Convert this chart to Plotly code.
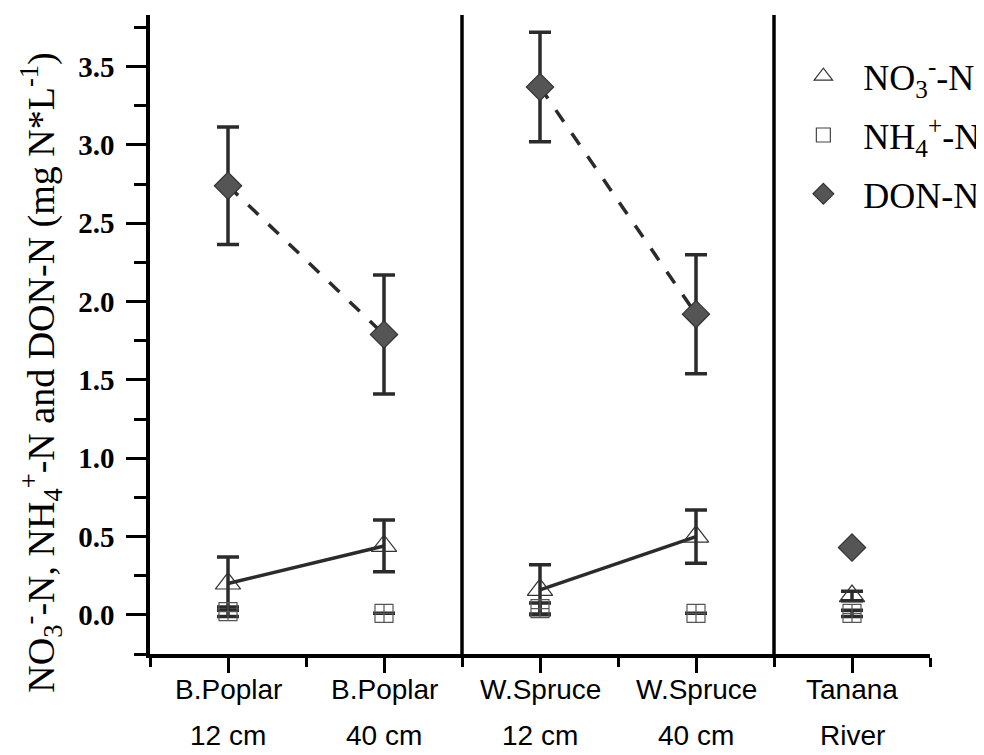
import plotly.graph_objects as go

# ---- data ----
cat_line1 = ["B.Poplar", "B.Poplar", "W.Spruce", "W.Spruce", "Tanana"]
cat_line2 = ["12 cm", "40 cm", "12 cm", "40 cm", "River"]
cat_pos = [1, 2, 3, 4, 5]
separators = [2.5, 4.5]

no3_vals = [0.20, 0.44, 0.16, 0.50, 0.12]
no3_err = [0.17, 0.165, 0.16, 0.17, 0.03]

nh4_vals = [0.02, 0.01, 0.04, 0.01, 0.01]
nh4_err = [0.03, 0.0, 0.035, 0.0, 0.02]

don_vals = [2.74, 1.79, 3.37, 1.92, 0.43]
don_err = [0.375, 0.38, 0.35, 0.38, 0.0]

# segments joined by lines (indices into the category list)
segments = [(0, 1), (2, 3)]

dark = "#2b2b2b"
fig = go.Figure()

def add_series(name, vals, errs, symbol, msize, mcolor, mline, dash, connect, group):
    if connect:
        for a, b in segments:
            fig.add_trace(go.Scatter(
                x=[cat_pos[a], cat_pos[b]], y=[vals[a], vals[b]],
                mode="lines", line=dict(color=dark, width=3.5, dash=dash),
                showlegend=False, hoverinfo="skip"))
    fig.add_trace(go.Scatter(
        x=cat_pos, y=vals, mode="markers", name=name, legendgroup=group,
        marker=dict(symbol=symbol, size=msize, color=mcolor,
                    line=dict(color=mline, width=1.2)),
        error_y=dict(type="data", array=errs, visible=True,
                     color=dark, thickness=3.5, width=11),
        showlegend=False))

add_series("NO3", no3_vals, no3_err, "triangle-up-open", 22, "#333333", "#333333", "solid", True, "a")
add_series("NH4", nh4_vals, nh4_err, "square-cross-open", 18, "#555555", "#555555", None, False, "b")
add_series("DON", don_vals, don_err, "diamond", 21, "#555555", "#333333", "14px,14px", True, "c")

# legend entries
fig.add_trace(go.Scatter(x=[None], y=[None], mode="markers", name="NO<sub>3</sub><sup>-</sup>-N",
                         legendgroup="a", marker=dict(symbol="triangle-up-open", size=18, color="#333333",
                                                      line=dict(width=1.2))))
fig.add_trace(go.Scatter(x=[None], y=[None], mode="markers", name="NH<sub>4</sub><sup>+</sup>-N",
                         legendgroup="b", marker=dict(symbol="square-open", size=14, color="#444444",
                                                      line=dict(width=1.2))))
fig.add_trace(go.Scatter(x=[None], y=[None], mode="markers", name="DON-N",
                         legendgroup="c", marker=dict(symbol="diamond", size=20, color="#555555",
                                                      line=dict(color="#333333", width=1.2))))

for s in separators:
    fig.add_shape(type="line", x0=s, x1=s, xref="x", y0=0, y1=1, yref="paper",
                  line=dict(color="black", width=3.5))

fig.update_layout(
    width=984, height=755,
    margin=dict(l=142, r=56, t=7, b=109),
    paper_bgcolor="white", plot_bgcolor="white",
    showlegend=True,
    legend=dict(x=0.812, y=0.951, xanchor="left", yanchor="top",
                font=dict(family="Liberation Serif, Times New Roman, serif", size=36, color="black"),
                tracegroupgap=9, itemwidth=70, bgcolor="rgba(0,0,0,0)"),
    xaxis=dict(range=[0.5, 5.5], tickmode="array", tickvals=cat_pos, showticklabels=False,
               automargin=False,
               showline=True, linewidth=3.5, linecolor="black", ticks="outside",
               ticklen=15, tickwidth=3, tickcolor="black", showgrid=False, zeroline=False,
               minor=dict(tickmode="array", tickvals=[0.5, 1.5, 2.5, 3.5, 4.5, 5.5],
                          ticks="outside", ticklen=9, tickwidth=3, tickcolor="black", showgrid=False)),
    yaxis=dict(range=[-0.25, 3.83], tickmode="linear", tick0=0, dtick=0.5, tickformat=".1f",
               automargin=False, ticklabelstandoff=6,
               showline=True, linewidth=3.5, linecolor="black", ticks="outside",
               ticklen=20, tickwidth=3, tickcolor="black", showgrid=False, zeroline=False,
               tickfont=dict(family="Liberation Serif, Times New Roman, serif", size=29, color="black", weight="bold"),
               minor=dict(tick0=0, dtick=0.25, ticks="outside", ticklen=12, tickwidth=3,
                          tickcolor="black", showgrid=False)),
)

xfont = dict(family="Liberation Sans, Arial, sans-serif", size=28, color="black")
for xp, t1, t2 in zip(cat_pos, cat_line1, cat_line2):
    fig.add_annotation(text=t1, x=xp, xref="x", y=-0.0563, yref="paper",
                       showarrow=False, xanchor="center", yanchor="middle", font=xfont)
    fig.add_annotation(text=t2, x=xp, xref="x", y=-0.1268, yref="paper",
                       showarrow=False, xanchor="center", yanchor="middle", font=xfont)

fig.add_annotation(text="NO<sub>3</sub><sup>-</sup>-N, NH<sub>4</sub><sup>+</sup>-N and DON-N (mg N*L<sup>-1</sup>)",
                   xref="paper", yref="paper", x=-0.14, y=0.44, textangle=-90,
                   showarrow=False, xanchor="center", yanchor="middle",
                   font=dict(family="Liberation Serif, Times New Roman, serif", size=38, color="black"))

fig.write_html("out.html")
